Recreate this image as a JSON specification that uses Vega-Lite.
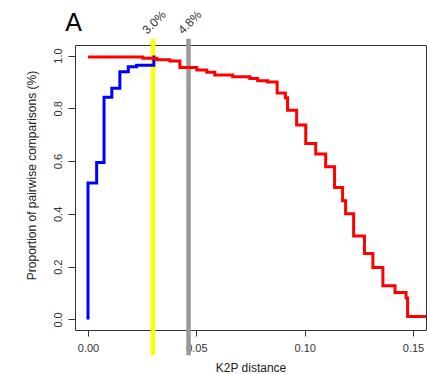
{
  "$schema": "https://vega.github.io/schema/vega-lite/v6.json",
  "width": 351,
  "height": 285,
  "autosize": "none",
  "padding": {"left": 75, "top": 45, "right": 1, "bottom": 44},
  "background": "white",
  "config": {
    "font": "Liberation Sans",
    "view": {"stroke": "#333", "strokeWidth": 1}
  },
  "datasets": {
    "curves": [
      {"series": "intra", "dist": 0.0, "prop": 0.0},
      {"series": "intra", "dist": 0.0, "prop": 0.517},
      {"series": "intra", "dist": 0.004, "prop": 0.595},
      {"series": "intra", "dist": 0.0074, "prop": 0.842},
      {"series": "intra", "dist": 0.011, "prop": 0.876},
      {"series": "intra", "dist": 0.0147, "prop": 0.939},
      {"series": "intra", "dist": 0.0186, "prop": 0.958},
      {"series": "intra", "dist": 0.0224, "prop": 0.963},
      {"series": "intra", "dist": 0.0304, "prop": 1.0},
      {"series": "inter", "dist": 0.0, "prop": 0.995},
      {"series": "inter", "dist": 0.0253, "prop": 0.99},
      {"series": "inter", "dist": 0.0318, "prop": 0.984},
      {"series": "inter", "dist": 0.0378, "prop": 0.979},
      {"series": "inter", "dist": 0.0424, "prop": 0.955},
      {"series": "inter", "dist": 0.0502, "prop": 0.945},
      {"series": "inter", "dist": 0.0548, "prop": 0.937},
      {"series": "inter", "dist": 0.0585, "prop": 0.926},
      {"series": "inter", "dist": 0.0668, "prop": 0.92},
      {"series": "inter", "dist": 0.0747, "prop": 0.913},
      {"series": "inter", "dist": 0.0783, "prop": 0.905},
      {"series": "inter", "dist": 0.0829, "prop": 0.9},
      {"series": "inter", "dist": 0.0873, "prop": 0.858},
      {"series": "inter", "dist": 0.0911, "prop": 0.84},
      {"series": "inter", "dist": 0.0921, "prop": 0.793},
      {"series": "inter", "dist": 0.0963, "prop": 0.737},
      {"series": "inter", "dist": 0.1005, "prop": 0.667},
      {"series": "inter", "dist": 0.1051, "prop": 0.627},
      {"series": "inter", "dist": 0.1097, "prop": 0.579},
      {"series": "inter", "dist": 0.1138, "prop": 0.5},
      {"series": "inter", "dist": 0.1175, "prop": 0.45},
      {"series": "inter", "dist": 0.1189, "prop": 0.401},
      {"series": "inter", "dist": 0.1226, "prop": 0.316},
      {"series": "inter", "dist": 0.1276, "prop": 0.25},
      {"series": "inter", "dist": 0.1315, "prop": 0.197},
      {"series": "inter", "dist": 0.1361, "prop": 0.128},
      {"series": "inter", "dist": 0.1417, "prop": 0.102},
      {"series": "inter", "dist": 0.1468, "prop": 0.081},
      {"series": "inter", "dist": 0.1475, "prop": 0.011},
      {"series": "inter", "dist": 0.156, "prop": 0.007}
    ],
    "thresholds": [
      {"label": "3.0%", "dist": 0.030, "color": "yellow"},
      {"label": "4.8%", "dist": 0.0464, "color": "gray"}
    ],
    "panel": [
      {"label": "A", "dist": -0.0105, "prop": 1.092}
    ]
  },
  "layer": [
    {
      "data": {"name": "thresholds"},
      "mark": {"type": "rule", "strokeWidth": 4.5, "clip": false},
      "encoding": {
        "x": {"field": "dist", "type": "quantitative", "scale": {"domain": [-0.006, 0.156], "nice": false, "zero": false}},
        "y": {"datum": -0.136, "type": "quantitative", "scale": {"domain": [-0.04, 1.04], "nice": false, "zero": false}},
        "y2": {"datum": 1.064},
        "color": {"field": "color", "type": "nominal", "scale": {"domain": ["yellow", "gray"], "range": ["#ffff00", "#9a9a9a"]}, "legend": null}
      }
    },
    {
      "data": {"name": "thresholds"},
      "mark": {"type": "text", "angle": -45, "align": "left", "baseline": "bottom", "fontSize": 12, "dx": -5, "clip": false, "color": "#333"},
      "encoding": {
        "x": {"field": "dist", "type": "quantitative"},
        "y": {"datum": 1.084, "type": "quantitative"},
        "text": {"field": "label"}
      }
    },
    {
      "data": {"name": "panel"},
      "mark": {"type": "text", "align": "left", "baseline": "alphabetic", "fontSize": 25, "clip": false, "color": "black"},
      "encoding": {
        "x": {"field": "dist", "type": "quantitative"},
        "y": {"field": "prop", "type": "quantitative"},
        "text": {"field": "label"}
      }
    },
    {
      "data": {"name": "curves"},
      "mark": {"type": "line", "interpolate": "step-after", "strokeWidth": 3, "clip": true},
      "encoding": {
        "x": {"field": "dist", "type": "quantitative", "title": "K2P distance",
          "axis": {"values": [0, 0.05, 0.1, 0.15], "format": ".2f", "domain": false, "grid": false, "tickColor": "#333", "tickSize": 6, "labelFontSize": 11, "labelColor": "#333", "labelPadding": 6, "titleFontSize": 12, "titleFontWeight": "normal", "titleColor": "#222", "titlePadding": 9}},
        "y": {"field": "prop", "type": "quantitative", "title": "Proportion of pairwise comparisons (%)",
          "axis": {"values": [0, 0.2, 0.4, 0.6, 0.8, 1.0], "format": ".1f", "domain": false, "grid": false, "tickColor": "#333", "tickSize": 7, "labelAngle": -90, "labelAlign": "center", "labelBaseline": "bottom", "labelFontSize": 11, "labelColor": "#333", "labelPadding": 5, "titleFontSize": 12, "titleFontWeight": "normal", "titleColor": "#222", "titlePadding": 14, "titleY": 130}},
        "color": {"field": "series", "type": "nominal", "scale": {"domain": ["intra", "inter"], "range": ["#0000ff", "#ff0000"]}, "legend": null},
        "order": {"value": null}
      }
    }
  ],
  "resolve": {"scale": {"color": "independent"}}
}
